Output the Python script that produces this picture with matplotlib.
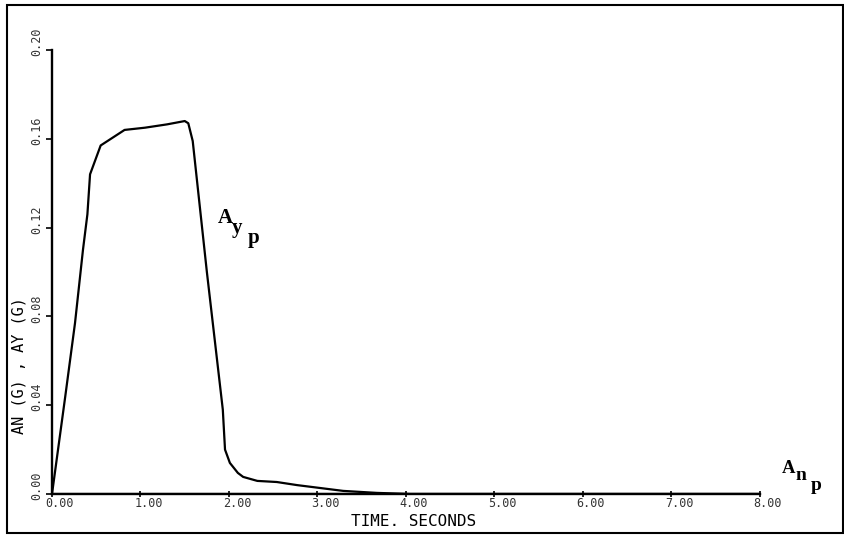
import matplotlib
matplotlib.use("Agg")
import matplotlib.pyplot as plt
from matplotlib.patches import Rectangle
from matplotlib.transforms import ScaledTranslation

# Lateral acceleration response (G) versus time (s)
ay_time = [0.00, 0.15, 0.26, 0.35, 0.40, 0.43, 0.55, 0.82, 1.05, 1.30, 1.50, 1.54,
           1.59, 1.75, 1.93, 1.955, 2.01, 2.10, 2.16, 2.32, 2.54, 2.77, 3.03, 3.29,
           3.67, 4.05, 8.00]
ay_values = [0.000, 0.044, 0.077, 0.110, 0.126, 0.144, 0.157, 0.164, 0.165, 0.1665,
             0.168, 0.167, 0.159, 0.100, 0.038, 0.020, 0.014, 0.0095, 0.0077, 0.0059,
             0.0054, 0.0040, 0.0027, 0.0014, 0.0005, 0.0, 0.0]

# Normal acceleration response (G) versus time (s)
an_time = [0.00, 8.00]
an_values = [0.0, 0.0]

x_ticks = [0, 1, 2, 3, 4, 5, 6, 7, 8]
x_tick_labels = ["0.00", "1.00", "2.00", "3.00", "4.00", "5.00", "6.00", "7.00", "8.00"]
y_ticks = [0.00, 0.04, 0.08, 0.12, 0.16, 0.20]
y_tick_labels = ["0.00", "0.04", "0.08", "0.12", "0.16", "0.20"]

W, H = 845, 540
fig = plt.figure(figsize=(W / 100, H / 100), dpi=100)
ax = fig.add_axes([52 / W, 1 - 494 / H, (760 - 52) / W, (494 - 50) / H])

ax.plot(ay_time, ay_values, color="black", lw=1.6, solid_joinstyle="round")
ax.plot(an_time, an_values, color="black", lw=1.6)

ax.set_xlim(0, 8)
ax.set_ylim(0, 0.2)
for s in ("top", "right"):
    ax.spines[s].set_visible(False)
for s in ("left", "bottom"):
    ax.spines[s].set_linewidth(1.7)

mono = "DejaVu Sans Mono"
ax.set_xticks(x_ticks)
ax.set_xticklabels(x_tick_labels, fontsize=8.5, family=mono, color="#333333")
ax.set_yticks(y_ticks)
ax.set_yticklabels(y_tick_labels, fontsize=8.5, family=mono, color="#333333",
                   rotation=90, va="center")
ax.tick_params(axis="x", direction="inout", length=5, width=1.2, pad=0)
ax.tick_params(axis="y", direction="out", length=4, width=1.2, pad=2)

# Tick labels are printed slightly past their tick marks
shift_x = ScaledTranslation(8 / 100, 0, fig.dpi_scale_trans)
shift_y = ScaledTranslation(0, 8 / 100, fig.dpi_scale_trans)
for t in ax.get_xticklabels():
    t.set_transform(t.get_transform() + shift_x)
for t in ax.get_yticklabels():
    t.set_transform(t.get_transform() + shift_y)

# Axis titles
fig.text(414 / W, 1 - 521 / H, "TIME. SECONDS", fontsize=11.5, family=mono,
         ha="center", va="center")
fig.text(19 / W, 1 - 366 / H, "AN (G) , AY (G)", fontsize=11, family=mono,
         rotation=90, ha="center", va="center")

# Curve annotations with stacked subscripts
lab = dict(family="Liberation Serif", fontweight="bold", color="black",
           ha="left", va="baseline", annotation_clip=False)
ay_anchor = (1.876, 0.1221)
ax.annotate("A", xy=ay_anchor, fontsize=15, **lab)
ax.annotate("y", xy=ay_anchor, xytext=(10, -7.2), textcoords="offset points",
            fontsize=15, **lab)
ax.annotate("p", xy=ay_anchor, xytext=(21, -14.4), textcoords="offset points",
            fontsize=15, **lab)

an_anchor = (8.249, 0.0095)
ax.annotate("A", xy=an_anchor, fontsize=13.5, **lab)
ax.annotate("n", xy=an_anchor, xytext=(10, -5), textcoords="offset points",
            fontsize=14, **lab)
ax.annotate("p", xy=an_anchor, xytext=(20.5, -12.2), textcoords="offset points",
            fontsize=14, **lab)

# Outer frame around the whole sheet
fig.patches.append(Rectangle((7 / W, 1 - 533 / H), (843 - 7) / W, (533 - 5) / H,
                             transform=fig.transFigure, fill=False,
                             edgecolor="black", lw=1.5))

fig.savefig("out.png", dpi=100)
